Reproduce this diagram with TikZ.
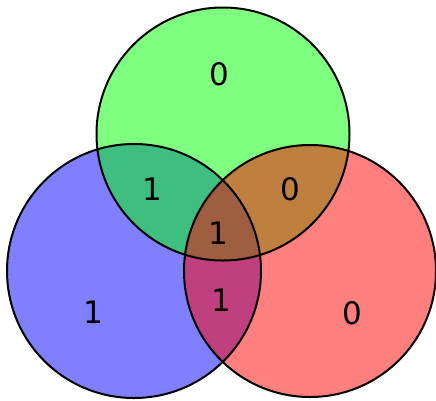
\documentclass[tikz,border=0pt]{standalone}
\usepackage{fontspec}
\setmainfont{DejaVu Sans}
\begin{document}
\begin{tikzpicture}[x=1pt,y=-1pt,
  disc/.style={fill opacity=0.5},
  rim/.style={draw=black,line width=2pt},
  lbl/.style={font=\fontsize{31}{31}\selectfont,inner sep=0pt}]
\useasboundingbox (0,0) rectangle (436,400);
\fill[blue,disc] (134,271) circle (127);
\fill[green,disc] (223,134) circle (126.5);
\fill[red,disc] (310,271) circle (126);
\draw[rim] (134,271) circle (127);
\draw[rim] (223,134) circle (126.5);
\draw[rim] (310,271) circle (126);
\node[lbl] (g) at (219,74) {0};
\node[lbl] (gb) at (152,189) {1};
\node[lbl] (gr) at (290,189) {0};
\node[lbl] (c) at (218,233) {1};
\node[lbl] (br) at (221,300) {1};
\node[lbl] (b) at (93,312) {1};
\node[lbl] (r) at (352,313) {0};
\end{tikzpicture}
\end{document}
